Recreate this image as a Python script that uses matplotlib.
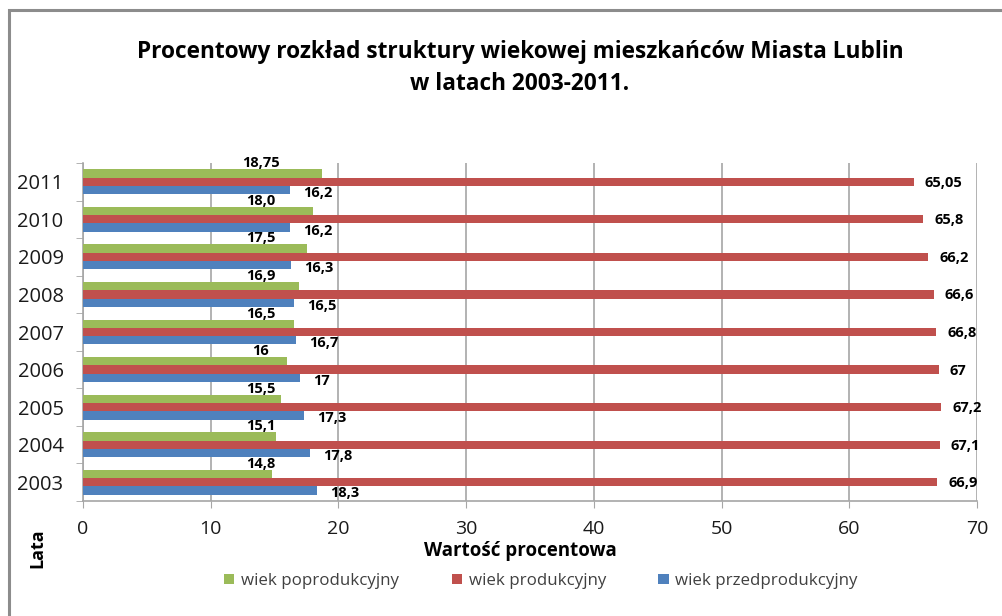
import matplotlib.pyplot as plt
import numpy as np
from matplotlib.patches import Rectangle

plt.rcParams["font.family"] = ["Open Sans", "DejaVu Sans"]

years = ["2003", "2004", "2005", "2006", "2007", "2008", "2009", "2010", "2011"]
poprod = [14.8, 15.1, 15.5, 16, 16.5, 16.9, 17.5, 18.0, 18.75]
prod = [66.9, 67.1, 67.2, 67, 66.8, 66.6, 66.2, 65.8, 65.05]
przed = [18.3, 17.8, 17.3, 17, 16.7, 16.5, 16.3, 16.2, 16.2]
lab_poprod = ["14,8", "15,1", "15,5", "16", "16,5", "16,9", "17,5", "18,0", "18,75"]
lab_prod = ["66,9", "67,1", "67,2", "67", "66,8", "66,6", "66,2", "65,8", "65,05"]
lab_przed = ["18,3", "17,8", "17,3", "17", "16,7", "16,5", "16,3", "16,2", "16,2"]

GREEN = "#9BBB59"
RED = "#C0504D"
BLUE = "#4F81BD"
GRID = "#A6A6A6"

fig = plt.figure(figsize=(10.02, 6.16), dpi=100)
ax = fig.add_axes([83 / 1002, 1 - 501 / 616, (977 - 83) / 1002, (501 - 163) / 616])

y = np.arange(len(years))
h = 0.22
b_g = ax.barh(y + h, poprod, height=h, color=GREEN, label="wiek poprodukcyjny", zorder=3)
b_r = ax.barh(y, prod, height=h, color=RED, label="wiek produkcyjny", zorder=3)
b_b = ax.barh(y - h, przed, height=h, color=BLUE, label="wiek przedprodukcyjny", zorder=3)

# data labels (positions as in the original Excel chart)
for i in range(len(years)):
    ax.annotate(lab_poprod[i], (13.9, y[i] + 1.5 * h), xytext=(0, -1),
                textcoords="offset pixels", ha="center", va="bottom",
                fontsize=10.5, weight="bold", color="black", zorder=4)
    ax.annotate(lab_prod[i], (prod[i], y[i]), xytext=(11, -1),
                textcoords="offset pixels", ha="left", va="center",
                fontsize=10.5, weight="bold", color="black", zorder=4)
    ax.annotate(lab_przed[i], (przed[i], y[i] - h), xytext=(13, -3),
                textcoords="offset pixels", ha="left", va="center",
                fontsize=10.5, weight="bold", color="black", zorder=4)

ax.set_xlim(0, 70)
ax.set_ylim(-0.5, len(years) - 0.5)
ax.set_xticks(np.arange(0, 71, 10))
ax.set_yticks(y)
ax.set_yticklabels(years)
ax.set_yticks(np.arange(-0.5, len(years), 1), minor=True)
ax.tick_params(axis="y", which="major", length=0, pad=14, labelsize=14.5, labelcolor="#1a1a1a")
ax.tick_params(axis="y", which="minor", length=5, color=GRID, direction="out")
ax.tick_params(axis="x", length=5, color=GRID, direction="out", labelsize=14,
               labelcolor="#1a1a1a", pad=9)
ax.grid(axis="x", color=GRID, lw=1.2, zorder=0)
for s in ["top", "right"]:
    ax.spines[s].set_visible(False)
for s in ["left", "bottom"]:
    ax.spines[s].set_color(GRID)
    ax.spines[s].set_linewidth(1.2)

fig.text(520 / 1002, 1 - 68 / 616,
         "Procentowy rozkład struktury wiekowej mieszkańców Miasta Lublin\nw latach 2003-2011.",
         ha="center", va="center", fontsize=16.3, weight="bold", linespacing=1.5)
fig.text(520 / 1002, 1 - 551 / 616, "Wartość procentowa", ha="center", va="center",
         fontsize=13.5, weight="bold")
fig.text(37 / 1002, 1 - 548 / 616, "Lata", ha="center", va="center", rotation=90,
         fontsize=13, weight="bold")

fig.legend(handles=[b_g, b_r, b_b], loc="center", bbox_to_anchor=(541 / 1002, 1 - 581 / 616),
           ncol=3, frameon=False, fontsize=12.2, handlelength=0.6, handleheight=0.6,
           columnspacing=3.1, handletextpad=0.4, labelcolor="#404040")

fig.patches.append(Rectangle((9 / 1002, -0.1), 1.2, 1 - 10 / 616 + 0.1,
                             transform=fig.transFigure, fill=False,
                             edgecolor="#8C8C8C", lw=2.2))

fig.savefig("out.png", dpi=100, facecolor="white")
